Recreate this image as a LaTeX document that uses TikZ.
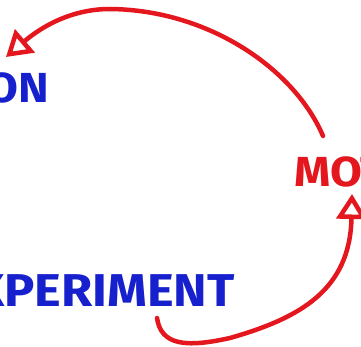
\documentclass[tikz,border=0pt]{standalone}
\usepackage{fontspec}
\setmainfont{Fira Sans}
\newfontfamily\handfont[FakeStretch=1.1]{Fira Sans}
\usetikzlibrary{arrows.meta,calc}
\definecolor{inkblue}{RGB}{22,32,205}
\definecolor{inkred}{RGB}{228,22,30}
\tikzset{
  word/.style={inner sep=0pt, text depth=0pt, font=\handfont\fontsize{42}{42}\selectfont\bfseries},
  blueword/.style={word, text=inkblue},
  redword/.style={word, text=inkred},
  redarrow/.style={draw=inkred, line width=4.5pt, line cap=round,
    -{Triangle[open,length=25pt,width=30pt,line width=4.5pt]}}
}
\begin{document}
\begin{tikzpicture}[x=1pt,y=-1pt]
\useasboundingbox (0,0) rectangle (361,347);
\fill[white] (0,0) rectangle (361,347);
\clip (0,0) rectangle (361,347);
\node[blueword, anchor=south east] (on) at (49,103) {ON};
\node[redword, anchor=south west] (mot) at (294,187) {MOT};
\node[blueword, anchor=south east, font=\handfont\fontsize{46}{46}\selectfont\bfseries] (exp) at (235,307) {EXPERIMENT};
\draw[redarrow] ($(mot.south west)+(29,-51)$)
  .. controls (295,70) and (210,10) .. (110,9)
  .. controls (70,9) and (40,28) .. ($(on.south east)+(-43,-46)$);
\draw[redarrow] ($(exp.south east)+(-78,11)$)
  .. controls (161,345) and (185,348) .. (230,338)
  .. controls (300,318) and (350,290) .. ($(mot.south west)+(58,7)$);
\end{tikzpicture}
\end{document}
